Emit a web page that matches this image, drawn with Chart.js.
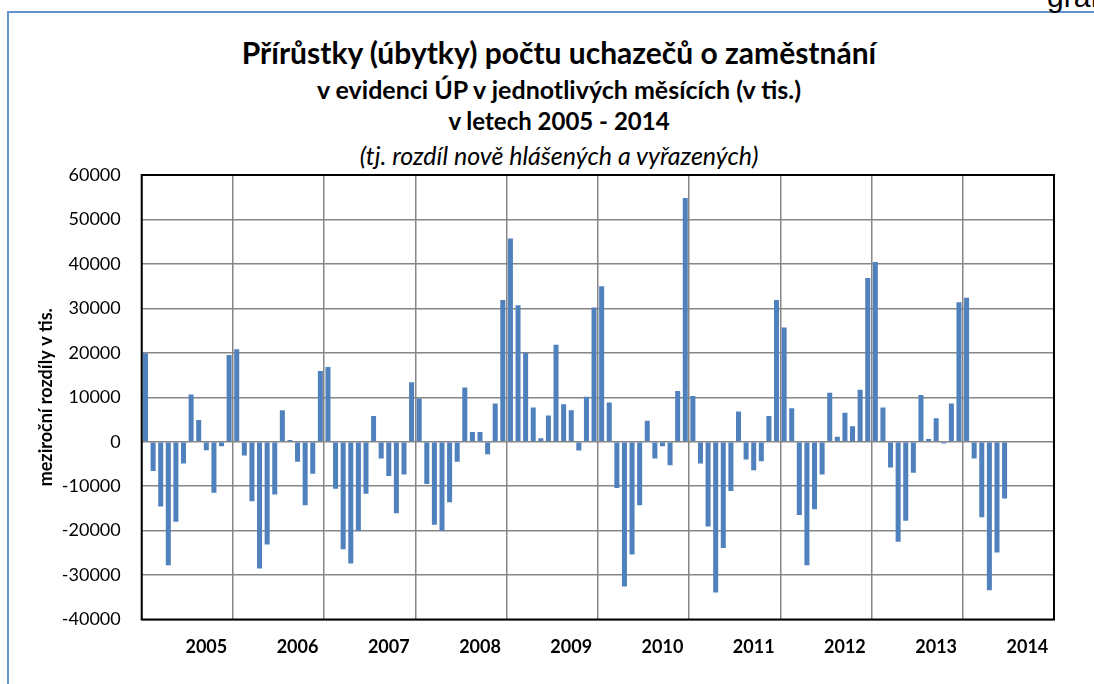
<!DOCTYPE html>
<html>
<head>
<meta charset="utf-8">
<script src="https://cdn.jsdelivr.net/npm/chart.js@4.4.1/dist/chart.umd.min.js"></script>
<style>
  html, body { margin: 0; padding: 0; background: #fff; }
  #wrap { position: relative; width: 1094px; height: 684px; overflow: hidden; font-family: 'Lato', sans-serif; color: #000; }
  #frame { position: absolute; left: 7px; top: 11px; width: 1200px; height: 800px;
           border-top: 2px solid #6394d0; border-left: 2px solid #6394d0; }
  #corner { position: absolute; left: 1047px; top: -18px; font: 30px/30px 'Liberation Sans', Arial, sans-serif; }
  .t { position: absolute; left: 559px; transform: translateX(-50%); white-space: nowrap; }
  #t1 { top: 34px; font-size: 30px; line-height: 36px; font-weight: bold; }
  #t2 { top: 74px; font-size: 25px; line-height: 30px; font-weight: bold; }
  #t3 { top: 106px; font-size: 24px; line-height: 30px; font-weight: bold; }
  #t4 { top: 140px; font-size: 25px; line-height: 30px; font-style: italic; }
  canvas { position: absolute; left: 0; top: 0; }
</style>
</head>
<body>
<div id="wrap">
  <div id="frame"></div>
  <div id="corner">graf</div>
  <div class="t" id="t1">Přírůstky (úbytky) počtu uchazečů o zaměstnání</div>
  <div class="t" id="t2">v evidenci ÚP v jednotlivých měsících (v tis.)</div>
  <div class="t" id="t3">v letech 2005 - 2014</div>
  <div class="t" id="t4">(tj. rozdíl nově hlášených a vyřazených)</div>
  <canvas id="uchazeciChart" width="1094" height="684"></canvas>
</div>
<script>
// monthly change in registered job seekers, Jan..Dec
const years = ['2005', '2006', '2007', '2008', '2009', '2010', '2011', '2012', '2013', '2014'];
const v2005 = [19900, -6600, -14600, -27800, -18000, -4900, 10600, 4900, -1900, -11500, -1000, 19500];
const v2006 = [20800, -3100, -13400, -28500, -23100, -11900, 7100, 400, -4500, -14300, -7200, 15900];
const v2007 = [16800, -10600, -24200, -27400, -20100, -11700, 5800, -3800, -7700, -16100, -7400, 13400];
const v2008 = [9700, -9500, -18700, -20100, -13600, -4500, 12200, 2200, 2200, -2800, 8600, 31900];
const v2009 = [45700, 30700, 20000, 7700, 800, 5900, 21800, 8400, 7100, -2000, 10100, 30200];
const v2010 = [35000, 8800, -10400, -32600, -25400, -14300, 4700, -3800, -1000, -5300, 11400, 54800];
const v2011 = [10300, -4900, -19100, -33900, -23900, -11100, 6800, -4000, -6400, -4400, 5800, 31900];
const v2012 = [25700, 7500, -16500, -27800, -15200, -7400, 11000, 1100, 6500, 3500, 11700, 36800];
const v2013 = [40400, 7700, -5800, -22500, -17800, -7000, 10500, 600, 5300, -400, 8600, 31400];
const v2014 = [32400, -3800, -17000, -33400, -24900, -12800];

const yearValues = [v2005, v2006, v2007, v2008, v2009, v2010, v2011, v2012, v2013, v2014];
const monthLabels = [];
years.forEach(y => { for (let m = 1; m <= 12; m++) monthLabels.push(y + '-' + m); });
const values = yearValues.flat();

const LABEL_MONTH = 8;   // year label sits under this month, like the original
const gridColor = '#868686';

const plotFrame = {
    id: 'plotFrame',
    afterDraw(chart) {
        const { ctx, chartArea: a } = chart;
        ctx.save();
        ctx.strokeStyle = '#000';
        ctx.lineWidth = 2;
        ctx.strokeRect(a.left, a.top, a.right - a.left, a.bottom - a.top);
        ctx.restore();
    }
};

const ctx = document.getElementById('uchazeciChart').getContext('2d');
new Chart(ctx, {
    type: 'bar',
    data: {
        labels: monthLabels,
        datasets: [{
            data: values,
            backgroundColor: '#4f81bd',
            barPercentage: 0.66,
            categoryPercentage: 1
        }]
    },
    options: {
        responsive: false,
        animation: false,
        layout: { padding: { top: 175, left: 31, right: 40, bottom: 0 } },
        plugins: {
            legend: { display: false },
            tooltip: { enabled: false }
        },
        scales: {
            x: {
                offset: true,
                ticks: {
                    autoSkip: false,
                    maxRotation: 0,
                    minRotation: 0,
                    padding: 17,
                    color: '#000',
                    font: { family: 'Lato', size: 18, weight: 'bold' },
                    callback: (v, i) => i % 12 === LABEL_MONTH ? years[Math.floor(i / 12)] : ''
                },
                grid: {
                    offset: true,
                    drawTicks: false,
                    lineWidth: 1.5,
                    color: c => c.index % 12 === 0 ? gridColor : 'transparent'
                },
                border: { display: false },
                afterFit(scale) { scale.height = 64.5; }
            },
            y: {
                min: -40000,
                max: 60000,
                ticks: {
                    stepSize: 10000,
                    padding: 21,
                    color: '#000',
                    font: { family: 'Lato', size: 18 },
                    callback: v => String(v)
                },
                grid: { drawTicks: false, lineWidth: 1.5, color: gridColor },
                border: { display: false },
                title: {
                    display: true,
                    text: 'meziroční rozdíly v tis.',
                    color: '#000',
                    font: { family: 'Lato', size: 18, weight: 'bold' }
                },
                afterFit(scale) { scale.width = 110.7; }
            }
        }
    },
    plugins: [plotFrame]
});
</script>
</body>
</html>
